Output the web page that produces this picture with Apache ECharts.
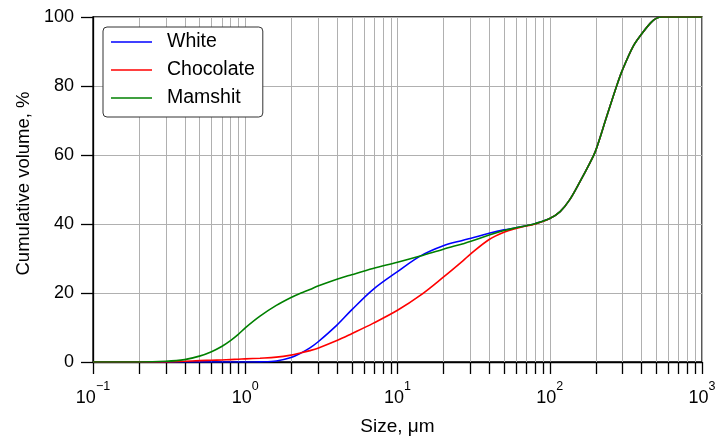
<!DOCTYPE html>
<html>
<head>
<meta charset="utf-8">
<script src="https://cdn.jsdelivr.net/npm/echarts@6/dist/echarts.min.js"></script>
<style>html,body{margin:0;padding:0;background:#fff;}#c{width:715px;height:437px;}</style>
</head>
<body>
<div id="c"></div>
<script>
// Particle sizes (µm) at which the curves were read
const sizes = [0.1, 0.2, 0.3, 0.4, 0.5, 0.6, 0.7, 0.8, 0.9, 1.0,
  1.25, 1.6, 2.0, 2.3, 2.66, 3, 4, 5, 6.9, 10,
  14.1, 20, 27, 30, 40, 50, 60, 70, 80, 100,
  117, 135, 158, 184, 200, 236, 275, 300, 353, 400,
  460, 500, 550, 700, 1000];
// Cumulative volume, %
const white = [0, 0, 0, 0, 0, 0, 0, 0, 0, 0,
  0.05, 0.3, 1.3, 2.5, 4.1, 5.8, 10.7, 15.1, 21.0, 26.2,
  30.7, 33.7, 35.3, 35.8, 37.3, 38.3, 38.9, 39.5, 40.1, 41.6,
  43.6, 47.0, 52.3, 57.8, 61.2, 71.0, 80.0, 84.6, 91.5, 95.0,
  98.3, 99.6, 100, 100, 100];
const chocolate = [0, 0, 0, 0.2, 0.4, 0.5, 0.6, 0.7, 0.8, 0.9,
  1.1, 1.4, 2.0, 2.6, 3.3, 4.0, 6.2, 8.2, 11.2, 15.0,
  19.3, 24.6, 29.4, 31.2, 35.5, 37.6, 38.7, 39.4, 40.0, 41.6,
  43.6, 47.0, 52.3, 57.8, 61.2, 71.0, 80.0, 84.6, 91.5, 95.0,
  98.3, 99.6, 100, 100, 100];
const mamshit = [0, 0, 0.2, 0.7, 1.7, 3.0, 4.5, 6.2, 8.0, 9.9,
  13.3, 16.4, 18.7, 19.9, 21.0, 22.0, 24.0, 25.3, 27.1, 28.9,
  30.7, 32.7, 34.3, 34.9, 36.8, 38.1, 38.9, 39.5, 40.1, 41.6,
  43.6, 47.0, 52.3, 57.8, 61.2, 71.0, 80.0, 84.6, 91.5, 95.0,
  98.3, 99.6, 100, 100, 100];
const seriesNames = ['White', 'Chocolate', 'Mamshit'];
const minorTickValues = [0.2, 0.3, 0.4, 0.5, 0.6, 0.7, 0.8, 0.9,
  2, 3, 4, 5, 6, 7, 8, 9,
  20, 30, 40, 50, 60, 70, 80, 90,
  200, 300, 400, 500, 600, 700, 800, 900];
const yTicks = [0, 20, 40, 60, 80, 100];

const FONT = 'Liberation Sans, Arial, sans-serif';
const pair = (vals) => sizes.map((s, i) => [s, vals[i]]);
const LEGEND_LINE = 'path://M0,0 H41 V1.6 H0 Z';

const chart = echarts.init(document.getElementById('c'), null, {renderer: 'canvas'});
const lineSeries = (name, vals, color) => ({
  name: name, type: 'line', data: pair(vals), symbol: 'none', showSymbol: false,
  smooth: 0.35, z: 3,
  lineStyle: {color: color, width: 1.6}, itemStyle: {color: color}
});

chart.setOption({
  animation: false,
  textStyle: {fontFamily: FONT},
  grid: {left: 93, right: 13, top: 17, bottom: 75, show: true, borderColor: '#000', borderWidth: 1.3,
    backgroundColor: 'transparent', containLabel: false, outerBoundsMode: 'none'},
  legend: {
    data: seriesNames.map(n => ({name: n, icon: LEGEND_LINE})),
    orient: 'vertical', left: 103, top: 27,
    padding: [5, 8, 9, 8], itemWidth: 41, itemHeight: 14, itemGap: 8,
    backgroundColor: '#fff', borderColor: '#333', borderWidth: 1, borderRadius: 4,
    textStyle: {fontSize: 19.5, color: '#000', fontFamily: FONT, lineHeight: 20, padding: [0, 0, 0, 10]}
  },
  xAxis: {
    type: 'log', logBase: 10, min: 0.1, max: 1000,
    name: 'Size, μm', nameLocation: 'middle', nameGap: 55,
    nameTextStyle: {fontSize: 19, color: '#000', fontFamily: FONT},
    axisLine: {show: true, lineStyle: {color: '#000', width: 1.3}},
    axisTick: {show: true, inside: false, length: 12, lineStyle: {color: '#000', width: 1.3}},
    splitLine: {show: true, lineStyle: {color: '#b0b0b0', width: 1}},
    minorTick: {show: false}, minorSplitLine: {show: false},
    axisLabel: {
      margin: 25, color: '#000',
      formatter: function (v) {
        const e = Math.round(Math.log10(v));
        return '{b|10}{e|' + (e < 0 ? '\u2212' + (-e) : e) + '}';
      },
      rich: {
        b: {fontSize: 18, fontFamily: FONT, color: '#000', lineHeight: 20, verticalAlign: 'bottom'},
        e: {fontSize: 12.5, fontFamily: FONT, color: '#000', lineHeight: 14, padding: [0, 0, 14, 0], verticalAlign: 'bottom'}
      }
    }
  },
  yAxis: {
    type: 'value', min: yTicks[0], max: yTicks[yTicks.length - 1], interval: 20,
    name: 'Cumulative volume, %', nameLocation: 'middle', nameGap: 59, nameRotate: 90,
    nameTextStyle: {fontSize: 18.5, color: '#000', fontFamily: FONT, padding: [0, 0, 0, 12]},
    axisLine: {show: true, lineStyle: {color: '#000', width: 1.3}},
    axisTick: {show: true, inside: false, length: 12, lineStyle: {color: '#000', width: 1.3}},
    splitLine: {show: true, lineStyle: {color: '#b0b0b0', width: 1}},
    axisLabel: {margin: 19, fontSize: 18, color: '#000', fontFamily: FONT}
  },
  series: [
    {
      type: 'custom', name: 'minor', silent: true, clip: false, z: 1,
      data: minorTickValues.map(v => [v, 0]),
      encode: {x: 0, y: 1},
      renderItem: function (params, api) {
        const v = api.value(0);
        const b = api.coord([v, yTicks[0]]);
        const t = api.coord([v, yTicks[yTicks.length - 1]]);
        const x = Math.round(b[0]) + 0.5;
        return {
          type: 'group',
          children: [
            {type: 'line', shape: {x1: x, y1: t[1], x2: x, y2: b[1]}, style: {stroke: '#b0b0b0', lineWidth: 1}},
            {type: 'line', shape: {x1: x, y1: b[1], x2: x, y2: b[1] + 12}, style: {stroke: '#000', lineWidth: 1.3}}
          ]
        };
      }
    },
    lineSeries(seriesNames[0], white, '#0000ff'),
    lineSeries(seriesNames[1], chocolate, '#ff0000'),
    lineSeries(seriesNames[2], mamshit, '#008000')
  ]
});
</script>
</body>
</html>
